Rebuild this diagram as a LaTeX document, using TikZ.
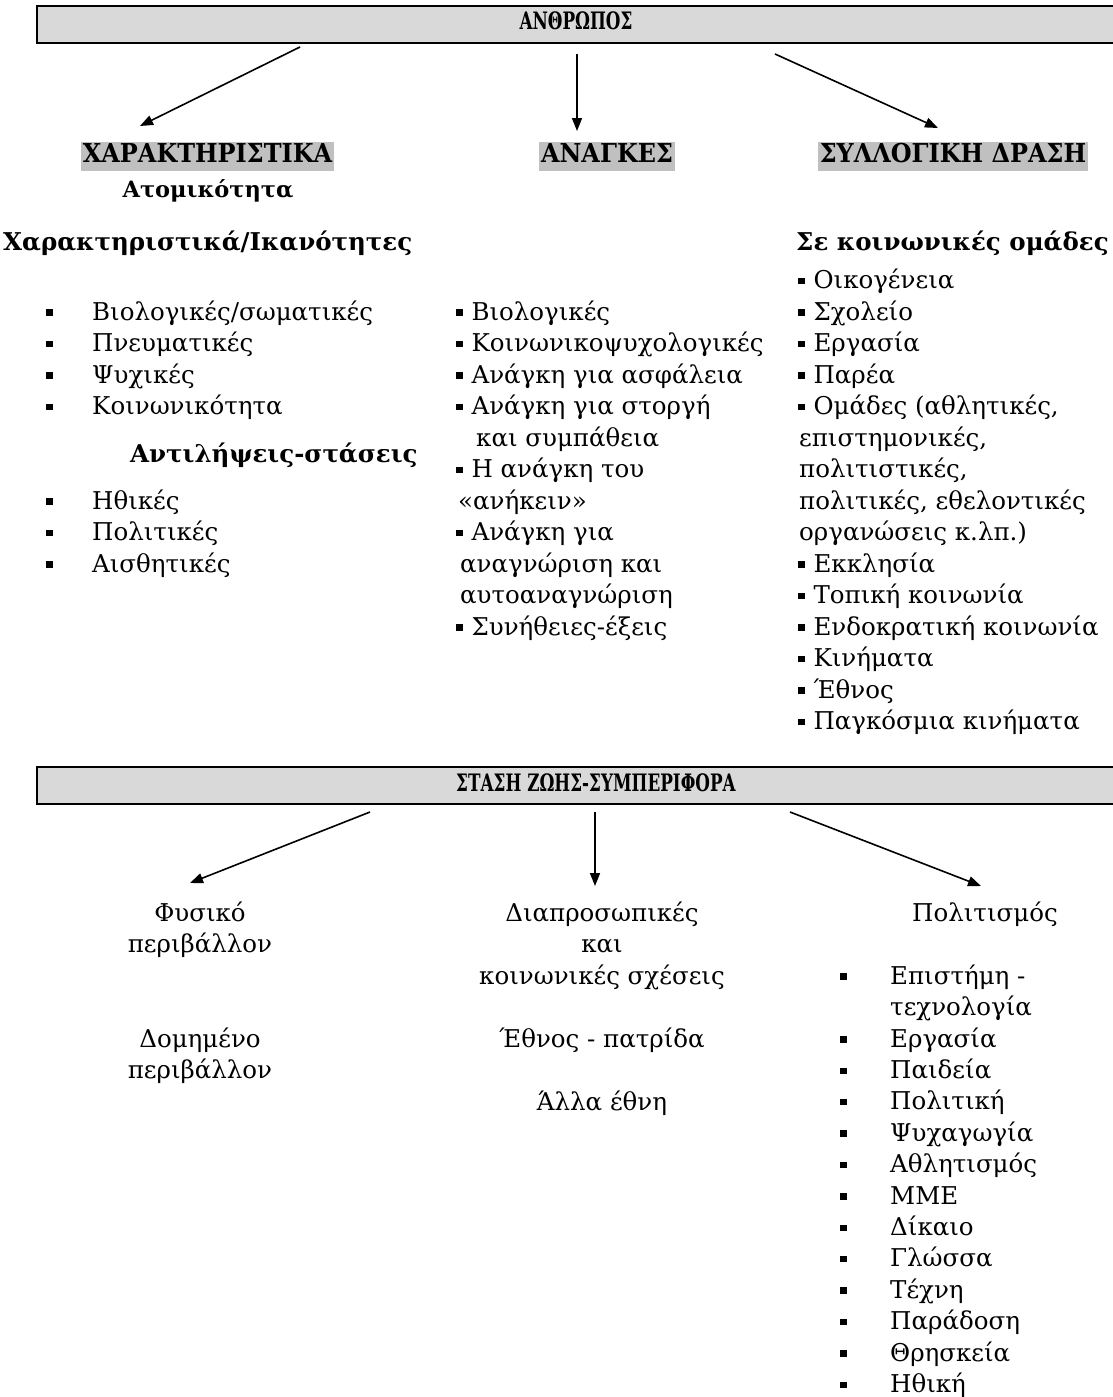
\documentclass[tikz,border=0pt]{standalone}
\usepackage{fontspec}
\setmainfont{DejaVu Serif}
\usetikzlibrary{arrows.meta}
\definecolor{boxgray}{RGB}{217,217,217}
\definecolor{hlgray}{RGB}{192,192,192}
\newcommand{\bul}{\rule[0.18em]{0.26em}{0.26em}}
\newcommand{\bi}{\bul\hspace{9pt}}
\newcommand{\hx}[1]{\scalebox{0.92}[1]{#1}}
\newcommand{\tx}[1]{\scalebox{0.7}[1]{#1}}
\begin{document}
\begin{tikzpicture}[x=1pt,y=-1pt,
  every node/.style={inner sep=0pt, text height=18pt, text depth=6pt, font=\fontsize{24.5}{30}\selectfont},
  lt/.style={anchor=west},
  ct/.style={anchor=center},
  bd/.style={font=\fontsize{24.5}{30}\selectfont\bfseries},
  hl/.style={anchor=center, font=\fontsize{26}{30}\selectfont\bfseries, fill=hlgray, inner xsep=2pt, text height=21pt, text depth=8pt},
  band/.style={draw=black, line width=2pt, fill=boxgray, anchor=north west, minimum width=1100pt, minimum height=37pt},
  ttl/.style={anchor=center, font=\fontsize{24}{28}\selectfont\bfseries},
  arr/.style={line width=1.6pt, -{Triangle[length=13pt,width=10pt]}},
]
\useasboundingbox (0,0) rectangle (1113,1397);
\fill[white] (0,0) rectangle (1113,1397);

% ---------- top band ----------
\node[band] (top) at (36,5) {};
\node[ttl] (toptxt) at (576,24) {\tx{ΑΝΘΡΩΠΟΣ}};

\node[hl] (h1) at (207.5,156) {\hx{ΧΑΡΑΚΤΗΡΙΣΤΙΚΑ}};
\node[hl] (h2) at (607,156) {\hx{ΑΝΑΓΚΕΣ}};
\node[hl] (h3) at (953,156) {\hx{ΣΥΛΛΟΓΙΚΗ ΔΡΑΣΗ}};
\node[ct, font=\fontsize{22.5}{28}\selectfont\bfseries] (h1b) at (208,191) {Ατομικότητα};

\coordinate (a1s) at (300,47);
\coordinate (a1e) at (140,126);
\coordinate (a2s) at (577,54);
\coordinate (a2e) at (577,131);
\coordinate (a3s) at (775,54);
\coordinate (a3e) at (938,128);
\draw[arr] (a1s) -- (a1e);
\draw[arr] (a2s) -- (a2e);
\draw[arr] (a3s) -- (a3e);

% ---------- left column ----------
\node[bd,lt] (lh1) at (3,244) {Χαρακτηριστικά/Ικανότητες};
\foreach \t [count=\i, evaluate=\i as \yy using 314+31.5*(\i-1)] in
  {Βιολογικές/σωματικές, Πνευματικές, Ψυχικές, Κοινωνικότητα} {
  \node[lt] (lb\i) at (46,\yy) {\bul};
  \node[lt] (li\i) at (92,\yy) {\t};
}
\node[bd,lt] (lh2) at (130,456) {Αντιλήψεις-στάσεις};
\foreach \t [count=\i, evaluate=\i as \yy using 503+31.5*(\i-1)] in
  {Ηθικές, Πολιτικές, Αισθητικές} {
  \node[lt] (lc\i) at (46,\yy) {\bul};
  \node[lt] (lj\i) at (92,\yy) {\t};
}

% ---------- middle column ----------
\node[lt] (m1) at (456,314) {\bi Βιολογικές};
\node[lt] (m2) at (456,345.5) {\bi Κοινωνικοψυχολογικές};
\node[lt] (m3) at (456,377) {\bi Ανάγκη για ασφάλεια};
\node[lt] (m4) at (456,408.5) {\bi Ανάγκη για στοργή};
\node[lt] (m5) at (476,440) {και συμπάθεια};
\node[lt] (m6) at (456,471.5) {\bi Η ανάγκη του};
\node[lt] (m7) at (458,503) {«ανήκειν»};
\node[lt] (m8) at (456,534.5) {\bi Ανάγκη για};
\node[lt] (m9) at (460,566) {αναγνώριση και};
\node[lt] (m10) at (460,597.5) {αυτοαναγνώριση};
\node[lt] (m11) at (456,629) {\bi Συνήθειες-έξεις};

% ---------- right column ----------
\node[bd,lt] (rh) at (796,244) {Σε κοινωνικές ομάδες};
\node[lt] (r1) at (798,282.5) {\bi Οικογένεια};
\node[lt] (r2) at (798,314) {\bi Σχολείο};
\node[lt] (r3) at (798,345.5) {\bi Εργασία};
\node[lt] (r4) at (798,377) {\bi Παρέα};
\node[lt] (r5) at (798,408.5) {\bi Ομάδες (αθλητικές,};
\node[lt] (r6) at (799,440) {επιστημονικές,};
\node[lt] (r7) at (799,471.5) {πολιτιστικές,};
\node[lt] (r8) at (799,503) {πολιτικές, εθελοντικές};
\node[lt] (r9) at (799,534.5) {οργανώσεις κ.λπ.)};
\node[lt] (r10) at (798,566) {\bi Εκκλησία};
\node[lt] (r11) at (798,597.5) {\bi Τοπική κοινωνία};
\node[lt] (r12) at (798,629) {\bi Ενδοκρατική κοινωνία};
\node[lt] (r13) at (798,660.5) {\bi Κινήματα};
\node[lt] (r14) at (798,692) {\bi Έθνος};
\node[lt] (r15) at (798,723.5) {\bi Παγκόσμια κινήματα};

% ---------- second band ----------
\node[band] (mid) at (36,766) {};
\node[ttl] (midtxt) at (596,785) {\tx{ΣΤΑΣΗ ΖΩΗΣ-ΣΥΜΠΕΡΙΦΟΡΑ}};

\coordinate (b1s) at (370,812);
\coordinate (b1e) at (190,883);
\coordinate (b2s) at (595,812);
\coordinate (b2e) at (595,886);
\coordinate (b3s) at (790,812);
\coordinate (b3e) at (981,886);
\draw[arr] (b1s) -- (b1e);
\draw[arr] (b2s) -- (b2e);
\draw[arr] (b3s) -- (b3e);

\node[ct] (f1) at (200,915) {Φυσικό};
\node[ct] (f2) at (200,946.5) {περιβάλλον};
\node[ct] (f3) at (200,1041) {Δομημένο};
\node[ct] (f4) at (200,1072.5) {περιβάλλον};

\node[ct] (d1) at (602,915) {Διαπροσωπικές};
\node[ct] (d2) at (602,946.5) {και};
\node[ct] (d3) at (602,978) {κοινωνικές σχέσεις};
\node[ct] (d4) at (602,1041) {Έθνος - πατρίδα};
\node[ct] (d5) at (602,1104) {Άλλα έθνη};

\node[ct] (p0) at (985,915) {Πολιτισμός};
\node[lt] (pb1) at (840,978) {\bul};
\node[lt] (p1) at (890,978) {Επιστήμη -};
\node[lt] (p1b) at (890,1009.5) {τεχνολογία};
\foreach \t [count=\i, evaluate=\i as \yy using 1041+31.4*(\i-1)] in
  {Εργασία, Παιδεία, Πολιτική, Ψυχαγωγία, Αθλητισμός, ΜΜΕ, Δίκαιο, Γλώσσα, Τέχνη, Παράδοση, Θρησκεία, Ηθική} {
  \node[lt] (pc\i) at (840,\yy) {\bul};
  \node[lt] (pi\i) at (890,\yy) {\t};
}
\end{tikzpicture}
\end{document}
